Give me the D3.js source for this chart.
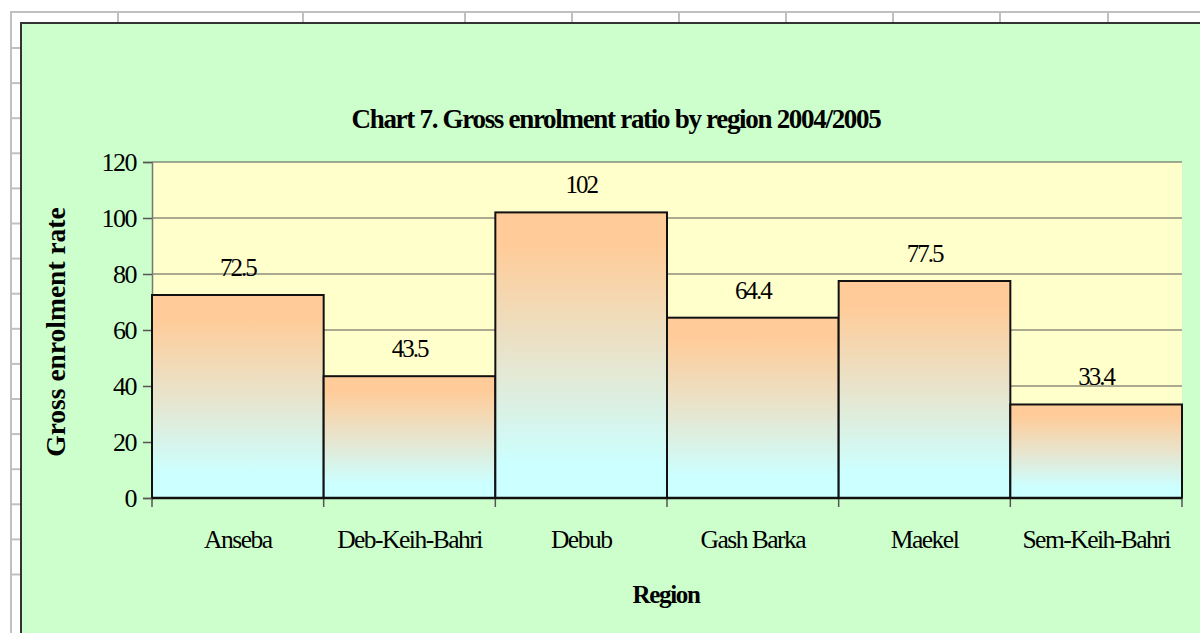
<!DOCTYPE html>
<html>
<head>
<meta charset="utf-8">
<script src="https://cdn.jsdelivr.net/npm/d3@7"></script>
<style>
  html, body { margin: 0; padding: 0; background: #fff; overflow: hidden; }
  svg { display: block; }
  text { font-family: "Liberation Serif", "Times New Roman", serif; fill: #000; }
</style>
</head>
<body>
<div id="chart"></div>
<script>
// data
var regions = ["Anseba", "Deb-Keih-Bahri", "Debub", "Gash Barka", "Maekel", "Sem-Keih-Bahri"];
var ratios = [72.5, 43.5, 102, 64.4, 77.5, 33.4];
var yTicks = [0, 20, 40, 60, 80, 100, 120];
var title = "Chart 7. Gross enrolment ratio by region 2004/2005";

var W = 1200, H = 633;
var plot = {left: 152, right: 1182, top: 162, bottom: 498};

var svg = d3.select("#chart").append("svg")
    .attr("width", W)
    .attr("height", H);

// gradient for the bars
var defs = svg.append("defs");
var grad = defs.append("linearGradient")
    .attr("id", "barFill")
    .attr("x1", 0).attr("y1", 0).attr("x2", 0).attr("y2", 1);
grad.append("stop").attr("offset", "0.12").attr("stop-color", "#FFCC99");
grad.append("stop").attr("offset", "0.5").attr("stop-color", "#E8E4CC");
grad.append("stop").attr("offset", "0.88").attr("stop-color", "#CCFFFF");

// spreadsheet grid behind the chart
var cols = [118, 303, 465, 572, 679, 786, 893, 1000, 1108];
svg.append("line")
    .attr("x1", 10).attr("x2", W).attr("y1", 12).attr("y2", 12)
    .attr("stroke", "#c0c0c0").attr("stroke-width", 2);
svg.append("line")
    .attr("x1", 11).attr("x2", 11).attr("y1", 12).attr("y2", H)
    .attr("stroke", "#c0c0c0").attr("stroke-width", 2);
svg.selectAll("line.col").data(cols).enter().append("line")
    .attr("class", "col")
    .attr("x1", function(d) { return d; }).attr("x2", function(d) { return d; })
    .attr("y1", 12).attr("y2", 24)
    .attr("stroke", "#c0c0c0").attr("stroke-width", 2);
var rows = d3.range(16).map(function(i) { return 48 + i * 35.1; });
svg.selectAll("line.row").data(rows).enter().append("line")
    .attr("class", "row")
    .attr("x1", 11).attr("x2", 22)
    .attr("y1", function(d) { return d; }).attr("y2", function(d) { return d; })
    .attr("stroke", "#c0c0c0").attr("stroke-width", 2);

// chart area
svg.append("rect")
    .attr("x", 21).attr("y", 23)
    .attr("width", W).attr("height", H)
    .attr("fill", "#CCFFCC")
    .attr("stroke", "#333").attr("stroke-width", 2);

// plot area
svg.append("rect")
    .attr("x", plot.left).attr("y", plot.top)
    .attr("width", plot.right - plot.left).attr("height", plot.bottom - plot.top)
    .attr("fill", "#FFFFCC");

var x = d3.scaleBand().domain(regions).range([plot.left, plot.right]).padding(0);
var y = d3.scaleLinear().domain([0, 120]).range([plot.bottom, plot.top]);

// gridlines
svg.selectAll("line.grid").data(yTicks.slice(1)).enter().append("line")
    .attr("class", "grid")
    .attr("x1", plot.left).attr("x2", plot.right)
    .attr("y1", function(d) { return y(d); }).attr("y2", function(d) { return y(d); })
    .attr("stroke", "#555").attr("stroke-width", 1);

// y axis
var yAxis = svg.append("g")
    .attr("transform", "translate(" + plot.left + ",0)")
    .call(d3.axisLeft(y).tickValues(yTicks).tickSize(9).tickPadding(7));
yAxis.select(".domain").attr("stroke", "#777").attr("stroke-width", 1.5);
yAxis.selectAll(".tick line").attr("stroke", "#555").attr("stroke-width", 1.5);
yAxis.selectAll(".tick text")
    .style("font-family", "'Liberation Serif', 'Times New Roman', serif")
    .style("font-size", "26px")
    .style("letter-spacing", "-1.5px")
    .attr("fill", "#000");

// bars
svg.selectAll("rect.bar").data(ratios).enter().append("rect")
    .attr("class", "bar")
    .attr("x", function(d, i) { return x(regions[i]); })
    .attr("y", function(d) { return y(d); })
    .attr("width", x.bandwidth())
    .attr("height", function(d) { return y(0) - y(d); })
    .attr("fill", "url(#barFill)")
    .attr("stroke", "#111").attr("stroke-width", 2);

// value labels
svg.selectAll("text.val").data(ratios).enter().append("text")
    .attr("class", "val")
    .attr("x", function(d, i) { return x(regions[i]) + x.bandwidth() / 2; })
    .attr("y", function(d) { return y(d) - 19; })
    .attr("text-anchor", "middle")
    .style("font-size", "25px")
    .style("letter-spacing", "-2px")
    .text(function(d) { return d; });

// x axis: boundary ticks and labels
var edges = d3.range(regions.length + 1).map(function(i) { return plot.left + i * x.step(); });
svg.selectAll("line.xtick").data(edges).enter().append("line")
    .attr("class", "xtick")
    .attr("x1", function(d) { return d; }).attr("x2", function(d) { return d; })
    .attr("y1", plot.bottom).attr("y2", plot.bottom + 9)
    .attr("stroke", "#555").attr("stroke-width", 1.5);
svg.append("line")
    .attr("x1", plot.left).attr("x2", plot.right)
    .attr("y1", plot.bottom).attr("y2", plot.bottom)
    .attr("stroke", "#111").attr("stroke-width", 2.5);

svg.selectAll("text.cat").data(regions).enter().append("text")
    .attr("class", "cat")
    .attr("x", function(d) { return x(d) + x.bandwidth() / 2; })
    .attr("y", 548)
    .attr("text-anchor", "middle")
    .style("font-size", "25.5px")
    .style("letter-spacing", "-1.5px")
    .text(function(d) { return d; });

// titles
svg.append("text")
    .attr("x", 616).attr("y", 128)
    .attr("text-anchor", "middle")
    .style("font-size", "27px")
    .style("font-weight", "bold")
    .style("letter-spacing", "-1.3px")
    .text(title);

svg.append("text")
    .attr("x", 666).attr("y", 603)
    .attr("text-anchor", "middle")
    .style("font-size", "25px")
    .style("font-weight", "bold")
    .style("letter-spacing", "-1.3px")
    .text("Region");

svg.append("text")
    .attr("transform", "translate(65," + ((plot.top + plot.bottom) / 2 + 2) + ") rotate(-90)")
    .attr("text-anchor", "middle")
    .style("font-size", "27.5px")
    .style("font-weight", "bold")
    .style("letter-spacing", "0px")
    .text("Gross enrolment rate");
</script>
</body>
</html>
